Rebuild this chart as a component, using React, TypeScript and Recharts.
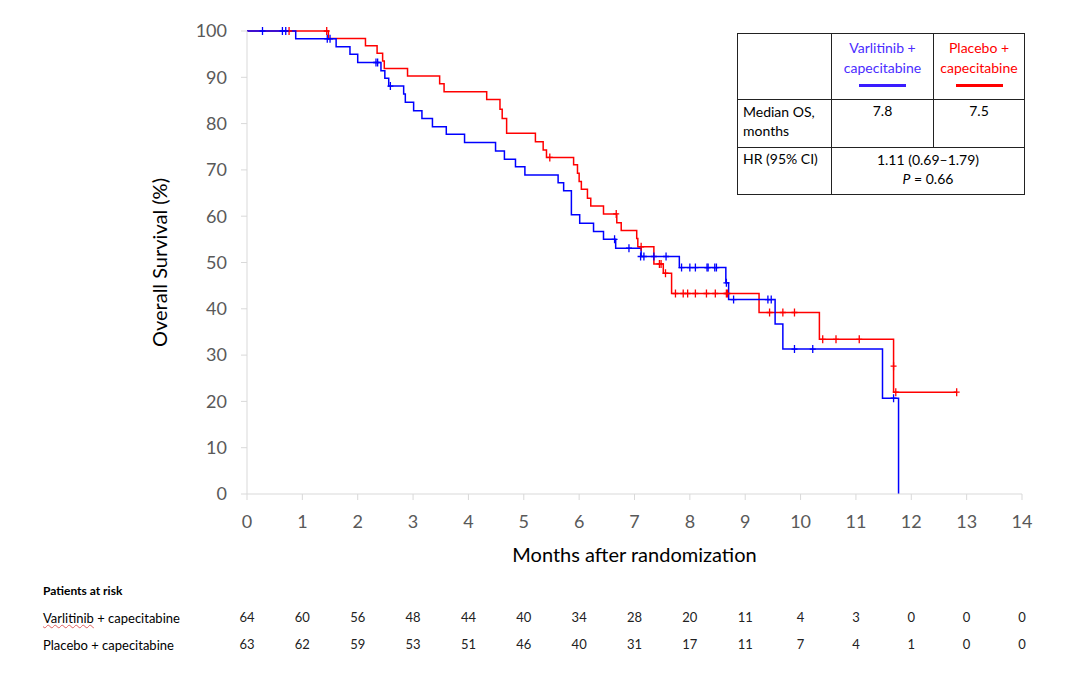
import {
  ComposedChart,
  Line,
  Scatter,
  XAxis,
  YAxis,
} from 'recharts'

// Kaplan-Meier steps: [months, survival %]
const varlitinibSteps: [number, number][] = [
  [0, 100], [0.88, 98.3], [1.61, 96.6], [1.86, 95.0], [2.0, 93.2], [2.42, 91.4],
  [2.49, 89.8], [2.56, 88.1], [2.83, 86.4], [2.86, 84.6], [3.01, 82.8], [3.16, 81.1],
  [3.35, 79.3], [3.6, 77.7], [3.93, 75.9], [4.49, 74.1], [4.65, 72.3], [4.85, 70.7],
  [5.02, 68.9], [5.62, 67.2], [5.72, 65.5], [5.86, 60.3], [6.01, 58.5], [6.26, 56.7],
  [6.44, 55.0], [6.66, 53.1], [7.12, 51.3], [7.81, 48.9], [8.65, 45.6], [8.7, 42.0],
  [9.54, 36.7], [9.68, 31.3], [11.48, 20.7], [11.77, 0],
]

const placeboSteps: [number, number][] = [
  [0, 100], [1.47, 98.4], [2.14, 96.8], [2.35, 95.2], [2.45, 93.5], [2.48, 91.9],
  [2.9, 90.3], [3.48, 88.6], [3.56, 86.9], [4.33, 85.2], [4.57, 83.1], [4.61, 81.1],
  [4.69, 77.9], [5.21, 76.1], [5.35, 74.3], [5.41, 72.7], [5.9, 71.1], [5.97, 69.3],
  [6.0, 67.5], [6.04, 65.8], [6.15, 63.9], [6.21, 62.2], [6.44, 60.5], [6.68, 58.6],
  [6.76, 56.9], [7.04, 55.2], [7.06, 53.4], [7.35, 49.7], [7.52, 47.7], [7.67, 43.3],
  [9.25, 39.2], [10.34, 33.4], [11.68, 22.0], [12.82, 22.0],
]

// censored observations
const varlitinibCensored: [number, number][] = [
  [0.28, 100], [0.64, 100], [0.7, 100], [1.45, 98.3], [1.5, 98.3], [2.33, 93.2],
  [2.36, 93.2], [2.59, 88.1], [6.64, 55.0], [6.9, 53.1], [7.11, 51.3], [7.17, 51.3],
  [7.35, 51.3], [7.57, 51.3], [7.85, 48.9], [8.0, 48.9], [8.1, 48.9], [8.31, 48.9],
  [8.33, 48.9], [8.45, 48.9], [8.48, 48.9], [8.66, 45.6], [8.79, 42.0], [9.41, 42.0],
  [9.47, 42.0], [9.89, 31.3], [10.22, 31.3], [11.68, 20.7],
]

const placeboCensored: [number, number][] = [
  [0.76, 100], [1.44, 100], [5.47, 72.7], [6.67, 60.5], [7.12, 53.4], [7.45, 49.7],
  [7.48, 49.7], [7.56, 47.7], [7.74, 43.3], [7.88, 43.3], [7.96, 43.3], [8.1, 43.3],
  [8.3, 43.3], [8.46, 43.3], [8.66, 43.3], [8.68, 43.3], [9.44, 39.2], [9.68, 39.2],
  [9.89, 39.2], [10.4, 33.4], [10.64, 33.4], [11.06, 33.4], [11.68, 27.6],
  [11.72, 22.0], [12.82, 22.0],
]

const monthTicks = [0, 1, 2, 3, 4, 5, 6, 7, 8, 9, 10, 11, 12, 13, 14]
const survivalTicks = [0, 10, 20, 30, 40, 50, 60, 70, 80, 90, 100]
const varlitinibAtRisk = [64, 60, 56, 48, 44, 40, 34, 28, 20, 11, 4, 3, 0, 0, 0]
const placeboAtRisk = [63, 62, 59, 53, 51, 46, 40, 31, 17, 11, 7, 4, 1, 0, 0]

const BLUE = '#0000ff'
const RED = '#ff0000'
const AXIS = '#d9d9d9'
const FONT = 'Lato, "Open Sans", sans-serif'

const toPoints = (arr: [number, number][]) => arr.map(([t, s]) => ({ t, s }))

// the at-risk axes need an item bound to them, otherwise they get no domain
const riskPoints = (counts: number[]) => monthTicks.map((t, i) => ({ t, s: 0, n: counts[i] }))

const censorMark = (color: string) => (props: any) => {
  const { cx, cy } = props
  return (
    <path
      d={`M${cx},${cy - 4}V${cy + 4}M${cx - 3},${cy}H${cx + 3}`}
      stroke={color}
      strokeWidth={1.3}
      fill="none"
    />
  )
}

const noShape = () => <g />

const riskTick = (counts: number[]) => (v: number) => String(counts[v] ?? '')

export default function App() {
  return (
    <div style={{ position: 'absolute', left: 0, top: 0, width: 1080, height: 681, background: '#fff', fontFamily: FONT }}>
      <ComposedChart
        width={1080}
        height={681}
        margin={{ top: 31, right: 58, bottom: 23, left: 0 }}
        style={{ fontFamily: FONT }}
      >
        <XAxis
          type="number"
          dataKey="t"
          domain={[0, 14]}
          ticks={monthTicks}
          interval={0}
          height={110}
          tickSize={6}
          tickMargin={15}
          stroke={AXIS}
          tick={{ fill: '#595959', fontSize: 18 }}
          label={{
            value: 'Months after randomization',
            position: 'insideTop',
            offset: 54,
            style: { fill: '#000', fontSize: 20 },
          }}
        />
        <XAxis
          xAxisId="r1"
          type="number"
          dataKey="t"
          domain={[0, 14]}
          ticks={monthTicks}
          interval={0}
          height={27}
          axisLine={false}
          tickLine={false}
          tickSize={0}
          tickMargin={9}
          tickFormatter={riskTick(varlitinibAtRisk)}
          tick={{ fill: '#222', fontSize: 13 }}
        />
        <XAxis
          xAxisId="r2"
          type="number"
          dataKey="t"
          domain={[0, 14]}
          ticks={monthTicks}
          interval={0}
          height={27}
          axisLine={false}
          tickLine={false}
          tickSize={0}
          tickMargin={9}
          tickFormatter={riskTick(placeboAtRisk)}
          tick={{ fill: '#222', fontSize: 13 }}
        />
        <YAxis
          type="number"
          domain={[0, 100]}
          ticks={survivalTicks}
          interval={0}
          width={247}
          tickSize={6}
          tickMargin={14}
          stroke={AXIS}
          tick={{ fill: '#595959', fontSize: 18 }}
          label={{
            value: 'Overall Survival (%)',
            angle: -90,
            position: 'insideLeft',
            offset: 160,
            style: { fill: '#000', fontSize: 20, textAnchor: 'middle' },
          }}
        />
        <Scatter
          xAxisId="r1"
          data={riskPoints(varlitinibAtRisk)}
          dataKey="s"
          shape={noShape}
          legendType="none"
          isAnimationActive={false}
        />
        <Scatter
          xAxisId="r2"
          data={riskPoints(placeboAtRisk)}
          dataKey="s"
          shape={noShape}
          legendType="none"
          isAnimationActive={false}
        />
        <Line
          data={toPoints(placeboSteps)}
          dataKey="s"
          type="stepAfter"
          stroke={RED}
          strokeWidth={1.5}
          dot={false}
          isAnimationActive={false}
        />
        <Line
          data={toPoints(varlitinibSteps)}
          dataKey="s"
          type="stepAfter"
          stroke={BLUE}
          strokeWidth={1.5}
          dot={false}
          isAnimationActive={false}
        />
        <Scatter
          data={toPoints(placeboCensored)}
          dataKey="s"
          shape={censorMark(RED)}
          isAnimationActive={false}
        />
        <Scatter
          data={toPoints(varlitinibCensored)}
          dataKey="s"
          shape={censorMark(BLUE)}
          isAnimationActive={false}
        />
      </ComposedChart>

      {/* summary box */}
      <table
        style={{
          position: 'absolute',
          left: 737,
          top: 33,
          width: 287,
          height: 161,
          borderCollapse: 'collapse',
          tableLayout: 'fixed',
          fontSize: 14,
          color: '#000',
        }}
      >
        <colgroup>
          <col style={{ width: 94 }} />
          <col style={{ width: 102 }} />
          <col style={{ width: 91 }} />
        </colgroup>
        <tbody>
          <tr style={{ height: 66 }}>
            <td style={cell} />
            <td style={{ ...cell, textAlign: 'center', color: '#4a2cff', verticalAlign: 'top', paddingTop: 4, lineHeight: '20px' }}>
              Varlitinib +<br />capecitabine
              <div style={{ width: 47, height: 3, background: '#3a1cff', margin: '6px auto 0' }} />
            </td>
            <td style={{ ...cell, textAlign: 'center', color: RED, verticalAlign: 'top', paddingTop: 4, lineHeight: '20px' }}>
              Placebo +<br />capecitabine
              <div style={{ width: 47, height: 3, background: RED, margin: '6px auto 0' }} />
            </td>
          </tr>
          <tr style={{ height: 48 }}>
            <td style={{ ...cell, paddingLeft: 5, lineHeight: '19px' }}>Median OS,<br />months</td>
            <td style={{ ...cell, textAlign: 'center' }}>7.8</td>
            <td style={{ ...cell, textAlign: 'center' }}>7.5</td>
          </tr>
          <tr style={{ height: 47 }}>
            <td style={{ ...cell, paddingLeft: 5 }}>HR (95% CI)</td>
            <td colSpan={2} style={{ ...cell, textAlign: 'center', lineHeight: '19px' }}>
              1.11 (0.69–1.79)<br /><i>P</i> = 0.66
            </td>
          </tr>
        </tbody>
      </table>

      {/* at-risk row labels */}
      <div style={{ position: 'absolute', left: 43, top: 583, fontSize: 12, fontWeight: 700, color: '#000' }}>
        Patients at risk
      </div>
      <div style={{ position: 'absolute', left: 43, top: 610, fontSize: 13, color: '#000' }}>
        <span style={{ textDecoration: 'underline wavy #e06060', textDecorationThickness: 1 }}>Varlitinib</span> + capecitabine
      </div>
      <div style={{ position: 'absolute', left: 43, top: 637, fontSize: 13, color: '#000' }}>
        Placebo + capecitabine
      </div>
    </div>
  )
}

const cell: React.CSSProperties = {
  border: '1.5px solid #222',
  verticalAlign: 'top',
  padding: '2px 3px',
}
